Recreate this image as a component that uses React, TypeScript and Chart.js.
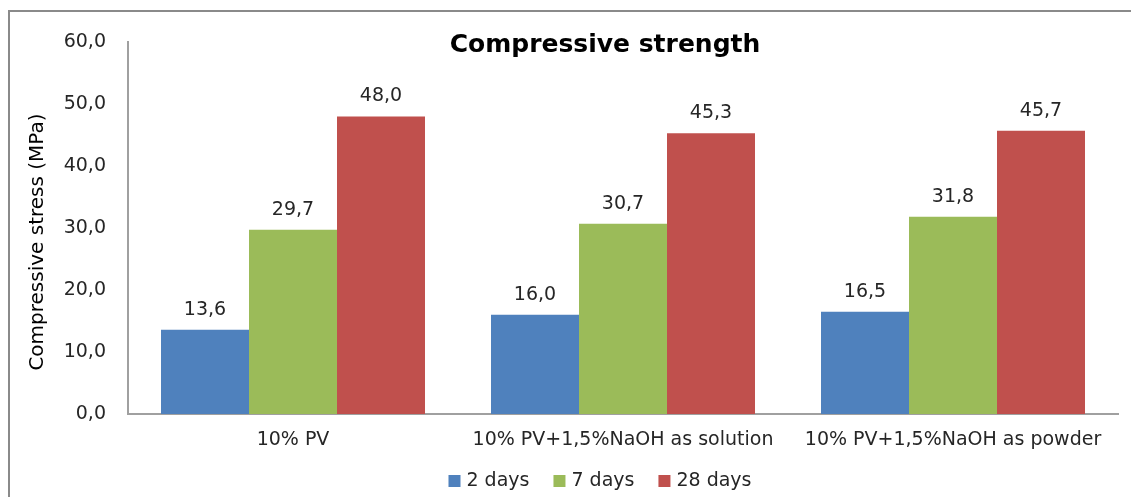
import React, { useEffect, useRef } from "react";
import { Chart, registerables } from "chart.js";

Chart.register(...registerables);

const categories = ["10% PV", "10% PV+1,5%NaOH as solution", "10% PV+1,5%NaOH as powder"];
const seriesNames = ["2 days", "7 days", "28 days"];
const days2 = [13.6, 16.0, 16.5];
const days7 = [29.7, 30.7, 31.8];
const days28 = [48.0, 45.3, 45.7];
const seriesColors = ["#4F81BD", "#9BBB59", "#C0504D"];
const yMin = 0;
const yMax = 60;
const yStep = 10;
const chartTitle = "Compressive strength";
const yTitle = "Compressive stress (MPa)";

const FONT = "'DejaVu Sans', sans-serif";
const TEXT = "#262626";
const fmt = (v: number) => v.toFixed(1).replace(".", ",");

const decorPlugin = {
  id: "decor",
  beforeDraw(chart: any) {
    const ctx = chart.ctx;
    ctx.save();
    ctx.fillStyle = "#ffffff";
    ctx.fillRect(0, 0, chart.width, chart.height);
    ctx.strokeStyle = "#8a8a8a";
    ctx.lineWidth = 2;
    ctx.strokeRect(9, 11, chart.width + 20, chart.height + 20);
    ctx.restore();
  },
  afterDatasetsDraw(chart: any) {
    const ctx = chart.ctx;
    ctx.save();
    ctx.font = `19px ${FONT}`;
    ctx.fillStyle = TEXT;
    ctx.textAlign = "center";
    ctx.textBaseline = "middle";
    chart.data.datasets.forEach((ds: any, i: number) => {
      const meta = chart.getDatasetMeta(i);
      meta.data.forEach((el: any, j: number) => {
        ctx.fillText(fmt(ds.data[j]), el.x, el.y - 20);
      });
    });
    ctx.restore();
  },
  afterDraw(chart: any) {
    const ctx = chart.ctx;
    ctx.save();
    // title
    ctx.font = `bold 25px ${FONT}`;
    ctx.fillStyle = "#000000";
    ctx.textAlign = "center";
    ctx.textBaseline = "middle";
    ctx.fillText(chartTitle, 605, 45);
    // y axis title
    ctx.save();
    ctx.translate(38, 242);
    ctx.rotate(-Math.PI / 2);
    ctx.font = `20px ${FONT}`;
    ctx.fillText(yTitle, 0, 0);
    ctx.restore();
    // legend
    ctx.font = `19px ${FONT}`;
    const box = 12;
    const gapText = 6;
    const gapItem = 24;
    const widths = seriesNames.map((n) => box + gapText + ctx.measureText(n).width);
    const total = widths.reduce((a, b) => a + b, 0) + gapItem * (widths.length - 1);
    let x = 600 - total / 2;
    const y = 481;
    ctx.textAlign = "left";
    seriesNames.forEach((n, i) => {
      ctx.fillStyle = seriesColors[i];
      ctx.fillRect(x, y - box / 2, box, box);
      ctx.fillStyle = TEXT;
      ctx.fillText(n, x + box + gapText, y);
      x += widths[i] + gapItem;
    });
    ctx.restore();
  },
};

export default function App() {
  const ref = useRef<HTMLCanvasElement | null>(null);
  useEffect(() => {
    if (!ref.current) return;
    const seriesData = [days2, days7, days28];
    const chart = new Chart(ref.current, {
      type: "bar",
      data: {
        labels: categories,
        datasets: seriesNames.map((name, i) => ({
          label: name,
          data: seriesData[i],
          backgroundColor: seriesColors[i],
          borderWidth: 0,
          categoryPercentage: 0.8,
          barPercentage: 1.0,
        })),
      },
      options: {
        animation: false,
        responsive: false,
        devicePixelRatio: 1,
        layout: { padding: { top: 42, left: 22, right: 13, bottom: 0 } },
        plugins: {
          legend: { display: false },
          title: { display: false },
          tooltip: { enabled: false },
        },
        scales: {
          x: {
            grid: { display: false, drawTicks: false },
            border: { display: true, color: "#a0a0a0", width: 2 },
            ticks: {
              color: TEXT,
              font: { family: FONT, size: 19 },
              padding: 15,
              maxRotation: 0,
              minRotation: 0,
              autoSkip: false,
            },
            afterFit: (scale: any) => {
              scale.height = 83;
            },
          },
          y: {
            min: yMin,
            max: yMax,
            grid: { display: false, drawTicks: false },
            border: { display: true, color: "#a0a0a0", width: 2 },
            ticks: {
              stepSize: yStep,
              color: TEXT,
              font: { family: FONT, size: 19 },
              padding: 22,
              callback: (v: any) => fmt(Number(v)),
            },
            afterFit: (scale: any) => {
              scale.width = 106;
            },
          },
        },
      },
      plugins: [decorPlugin],
    });
    return () => chart.destroy();
  }, []);
  return (
    <div style={{ position: "fixed", left: 0, top: 0, width: 1131, height: 497, background: "#fff" }}>
      <canvas ref={ref} width={1131} height={497} style={{ display: "block", width: 1131, height: 497 }} />
    </div>
  );
}
